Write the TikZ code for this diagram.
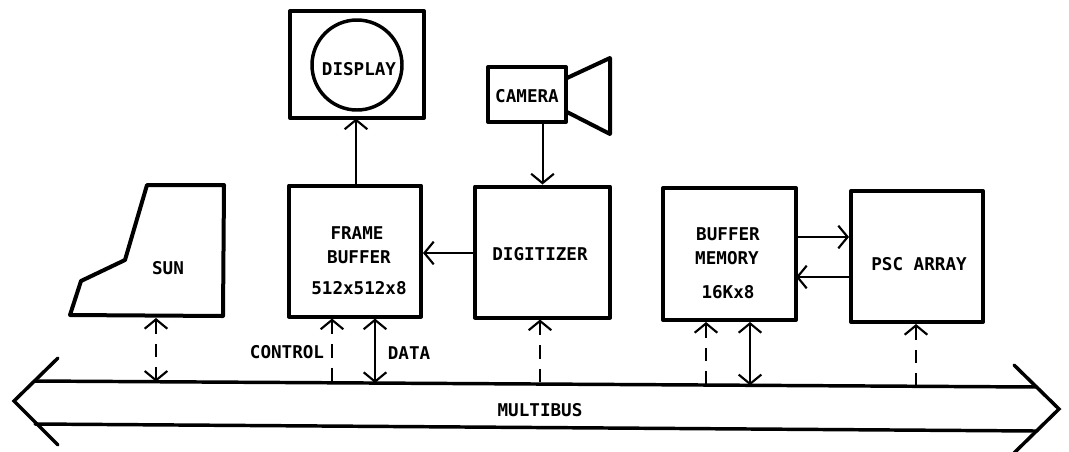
\documentclass[tikz,border=0pt]{standalone}
\usepackage{fontspec}
\setmainfont{DejaVu Sans Mono}[BoldFont={DejaVu Sans Mono Bold}]
\usetikzlibrary{arrows.meta}
\tikzset{
  box/.style={draw,line width=3pt,line join=round,inner sep=0pt,minimum width=#1},
  txt/.style={font=\fontsize{13.2}{15}\selectfont\bfseries,inner sep=0pt,anchor=center},
  outline/.style={line width=3pt,line join=round},
  busline/.style={line width=2.6pt,line cap=round},
  link/.style={line width=1.5pt},
  thicklink/.style={line width=2.2pt},
  dashlink/.style={line width=1.7pt,dash pattern=on 10pt off 7.5pt},
  barb/.tip={Straight Barb[length=7pt,width=17pt,line width=1.6pt]}
}
\begin{document}
\begin{tikzpicture}[x=0.75pt,y=-0.75pt]
\useasboundingbox (0,0) rectangle (1069,451);
% boxes
\node[box=134*0.75pt,minimum height=107*0.75pt] (disp) at (357,64.5) {};
\node[box=132*0.75pt,minimum height=131*0.75pt] (fb) at (355,251) {};
\node[box=135*0.75pt,minimum height=131*0.75pt] (dig) at (542.5,252) {};
\node[box=78*0.75pt,minimum height=55*0.75pt] (cam) at (527,94.5) {};
\node[box=133*0.75pt,minimum height=132*0.75pt] (mem) at (729.5,254) {};
\node[box=132*0.75pt,minimum height=131*0.75pt] (psc) at (917,256.5) {};
\node[draw,circle,line width=2.6pt,minimum size=90*0.75pt,inner sep=0pt] (circ) at (357,65) {};
% sun and camera horn
\coordinate (s1) at (147,185); \coordinate (s2) at (224,185); \coordinate (s3) at (223,316);
\coordinate (s4) at (70,315); \coordinate (s5) at (81,281); \coordinate (s6) at (125,260);
\draw[outline] (s1) -- (s2) -- (s3) -- (s4) -- (s5) -- (s6) -- cycle;
\coordinate (h1) at (567,78); \coordinate (h2) at (610,58); \coordinate (h3) at (610,134); \coordinate (h4) at (567,112);
\draw[outline] (h1) -- (h2) -- (h3) -- (h4);
% bus
\coordinate (tl) at (34,381); \coordinate (tr) at (1037,387);
\coordinate (bl) at (35,424); \coordinate (br) at (1037,431);
\coordinate (ltip) at (14,401); \coordinate (lup) at (58,358); \coordinate (ldn) at (58,445);
\coordinate (rtip) at (1059,409); \coordinate (rup) at (1014,365); \coordinate (rdn) at (1014,453);
\draw[busline] (tl) -- (tr);
\draw[busline] (bl) -- (br);
\draw[busline] (lup) -- (ltip) -- (ldn);
\draw[busline] (rup) -- (rtip) -- (rdn);
% bus taps
\coordinate (bSun) at (156,381.7); \coordinate (sunB) at (156,318);
\coordinate (bCtl) at (332,382.8); \coordinate (bDat) at (375,383);
\coordinate (bDig) at (540,384); \coordinate (bMc) at (706,385); \coordinate (bMd) at (750,385.3);
\coordinate (bPsc) at (916,386.3);
% connectors
\draw[dashlink,{barb}-{barb}] (sunB) -- (bSun);
\draw[dashlink,{barb}-] (fb.south -| bCtl) -- (bCtl);
\draw[link,{barb}-{barb}] (fb.south -| bDat) -- (bDat);
\draw[dashlink,{barb}-] (dig.south -| bDig) -- (bDig);
\draw[dashlink,{barb}-] (mem.south -| bMc) -- (bMc);
\draw[link,{barb}-{barb}] (mem.south -| bMd) -- (bMd);
\draw[dashlink,{barb}-] (psc.south -| bPsc) -- (bPsc);
\draw[link,-{barb}] (fb.north -| disp.south) ++(-1,0) -- ++(0,-65);
\draw[link,-{barb}] (cam.south -| dig.north) -- (dig.north);
\coordinate (dgl) at (475,253);
\draw[thicklink,-{barb}] (dgl) -- (dgl -| fb.east);
\coordinate (ma) at (796,237); \coordinate (mb) at (796,277);
\draw[thicklink,-{barb}] (ma) -- (ma -| psc.west);
\draw[thicklink,-{barb}] (mb -| psc.west) -- (mb);
% labels
\node[txt] (tdisp) at (359,69) {DISPLAY};
\node[txt] (tcam) at (527,96) {CAMERA};
\node[txt] (tsun) at (168,268) {SUN};
\node[txt] (tf1) at (357,233) {FRAME};
\node[txt] (tf2) at (359,257) {BUFFER};
\node[txt] (tf3) at (359,288) {512x512x8};
\node[txt] (tctl) at (287,352) {CONTROL};
\node[txt] (tdat) at (409,353) {DATA};
\node[txt] (tdig) at (540,254) {DIGITIZER};
\node[txt] (tbus) at (540,410) {MULTIBUS};
\node[txt] (tm1) at (728,234) {BUFFER};
\node[txt] (tm2) at (727,258) {MEMORY};
\node[txt] (tm3) at (728,292) {16Kx8};
\node[txt] (tpsc) at (919,264) {PSC ARRAY};
\end{tikzpicture}
\end{document}
